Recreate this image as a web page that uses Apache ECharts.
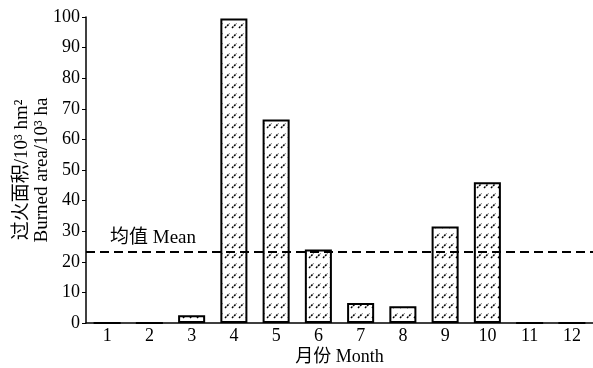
<!DOCTYPE html>
<html>
<head>
<meta charset="utf-8">
<script src="https://cdn.jsdelivr.net/npm/echarts@6/dist/echarts.min.js"></script>
<style>html,body{margin:0;padding:0;background:#fff}#c{width:593px;height:368px}</style>
</head>
<body>
<div id="c"></div>
<script>
var months = ['1','2','3','4','5','6','7','8','9','10','11','12'];
var burnedArea = [0, 0, 2.5, 99.5, 66.5, 24, 6.5, 5.5, 31.5, 46, 0, 0];
var meanValue = 23.2;
var yTicks = {min: 0, max: 100, interval: 10};

function makePattern() {
  var c = document.createElement('canvas');
  c.width = 7; c.height = 10;
  var g = c.getContext('2d');
  g.fillStyle = '#fff';
  g.fillRect(0, 0, 7, 10);
  g.strokeStyle = '#000';
  g.lineWidth = 1.5;
  g.setLineDash([2, 1]);
  g.beginPath();
  g.moveTo(1, 8);
  g.lineTo(5.5, 3.5);
  g.stroke();
  return c;
}

var serif = '"Liberation Serif", "Noto Sans CJK SC", serif';
var chart = echarts.init(document.getElementById('c'), null, {renderer: 'canvas'});
chart.setOption({
  animation: false,
  backgroundColor: '#fff',
  grid: {left: 86, right: 0, top: 17, bottom: 45, containLabel: false, outerBoundsMode: 'none'},
  xAxis: {
    type: 'category',
    data: months,
    boundaryGap: true,
    name: '月份 Month',
    nameLocation: 'middle',
    nameGap: 25,
    nameMoveOverlap: false,
    nameTextStyle: {color: '#000', fontSize: 18, fontFamily: serif},
    axisLine: {lineStyle: {color: '#000', width: 1.5}},
    axisTick: {alignWithLabel: true, inside: true, length: 4, lineStyle: {color: '#000'}},
    axisLabel: {color: '#000', fontSize: 18, fontFamily: serif, margin: 4},
    splitLine: {show: false}
  },
  yAxis: {
    type: 'value',
    min: yTicks.min, max: yTicks.max, interval: yTicks.interval,
    name: '过火面积/10³ hm²\nBurned area/10³ ha',
    nameLocation: 'middle',
    nameGap: 34,
    nameMoveOverlap: false,
    nameTextStyle: {color: '#000', fontSize: 19, fontFamily: serif, lineHeight: 20},
    axisLine: {show: true, lineStyle: {color: '#000', width: 1.5}},
    axisTick: {show: true, length: 4, lineStyle: {color: '#000'}},
    axisLabel: {color: '#000', fontSize: 18, fontFamily: serif, margin: 6},
    splitLine: {show: false}
  },
  series: [{
    type: 'bar',
    data: burnedArea,
    barWidth: '64%',
    itemStyle: {
      color: {image: makePattern(), repeat: 'repeat'},
      borderColor: '#000',
      borderWidth: 2
    },
    markLine: {
      symbol: 'none',
      silent: true,
      lineStyle: {color: '#000', type: [9, 5], width: 2},
      label: {
        show: true,
        position: 'insideStartTop',
        formatter: '均值 Mean',
        color: '#000',
        fontSize: 19,
        fontFamily: serif,
        distance: [24, 4]
      },
      data: [{yAxis: meanValue}]
    }
  }]
});
</script>
</body>
</html>
